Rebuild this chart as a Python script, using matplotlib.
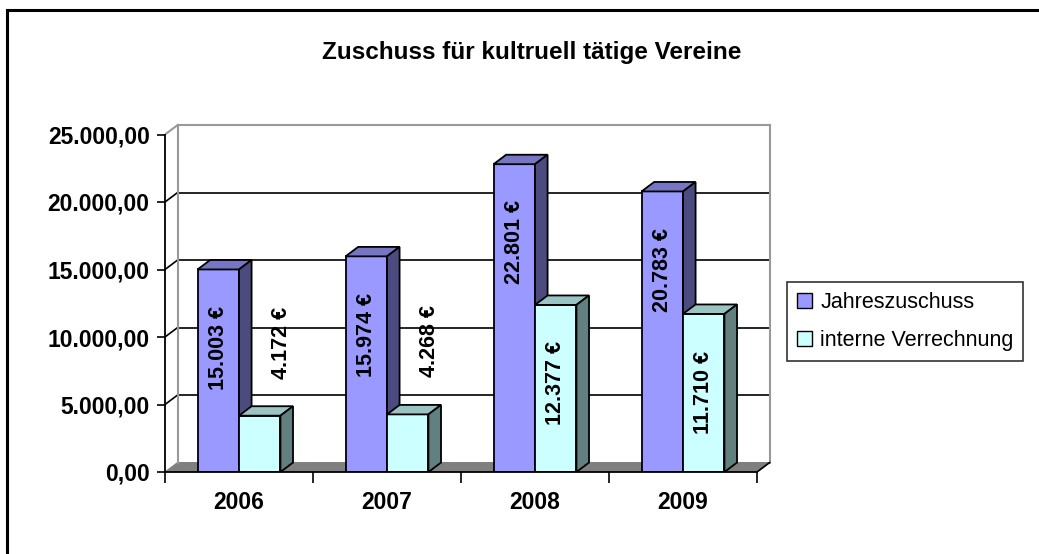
import matplotlib
matplotlib.use("Agg")
import matplotlib.pyplot as plt
import matplotlib.ticker as ticker
from matplotlib.patches import Polygon, Patch
from matplotlib.lines import Line2D

plt.rcParams["font.family"] = ["Liberation Sans", "DejaVu Sans"]

# Daten
years = ["2006", "2007", "2008", "2009"]
jahreszuschuss = [15003, 15974, 22801, 20783]
verrechnung = [4172, 4268, 12377, 11710]
series_names = ["Jahreszuschuss", "interne Verrechnung"]
y_ticks = [0, 5000, 10000, 15000, 20000, 25000]
title = "Zuschuss für kultruell tätige Vereine"

front_cols = ["#9999FF", "#CCFFFF"]
top_cols = ["#7676C4", "#9AC4C4"]
side_cols = ["#4B4B7F", "#638080"]

W, H = 1039, 554
fig = plt.figure(figsize=(W / 100, H / 100), dpi=100)
ax = fig.add_axes([165 / W, 82 / H, 625 / W, 351 / H])
ax.set_xlim(-0.5, -0.5 + 625 / 148)
ax.set_ylim(0, 26000)

# 3D-Versatz (Tiefe)
dx, dy = 0.085, 700
x_lo, x_hi = -0.5, len(years) - 0.5
wall_col = "#999999"

# Boden
ax.add_patch(Polygon([(x_lo, 0), (x_hi, 0), (x_hi + dx, dy), (x_lo + dx, dy)],
                     closed=True, facecolor="#808080", edgecolor="#808080", lw=0.8, zorder=1))
ax.plot([x_hi, x_hi + dx], [0, dy], color="black", lw=1.2, zorder=1.2, clip_on=False)

# Rückwand: Gitterlinien und Ränder
for v in y_ticks[1:-1]:
    ax.plot([x_lo + dx, x_hi + dx], [v + dy, v + dy], color="black", lw=1.2, zorder=1)
    ax.plot([x_lo, x_lo + dx], [v, v + dy], color="black", lw=1.2, zorder=1)
top = y_ticks[-1]
ax.plot([x_lo + dx, x_hi + dx], [top + dy, top + dy], color=wall_col, lw=1.5, zorder=1)
ax.plot([x_lo, x_lo + dx], [top, top + dy], color=wall_col, lw=1.5, zorder=1)
ax.plot([x_lo + dx, x_lo + dx], [dy, top + dy], color=wall_col, lw=1.5, zorder=1)
ax.plot([x_hi + dx, x_hi + dx], [dy, top + dy], color=wall_col, lw=1.5, zorder=1)

# Säulen
w = 0.28
z = 3
for i in range(len(years)):
    for s, vals in enumerate([jahreszuschuss, verrechnung]):
        v = vals[i]
        x0 = i - w + s * w
        x1 = x0 + w
        bar = ax.bar(x0, v, w, align="edge", color=front_cols[s], edgecolor="black", lw=1.3)[0]
        bar.set_zorder(z)
        ax.add_patch(Polygon([(x0, v), (x1, v), (x1 + dx, v + dy), (x0 + dx, v + dy)],
                             closed=True, facecolor=top_cols[s], edgecolor="black", lw=1.3, zorder=z))
        ax.add_patch(Polygon([(x1, 0), (x1 + dx, dy), (x1 + dx, v + dy), (x1, v)],
                             closed=True, facecolor=side_cols[s], edgecolor="black", lw=1.3, zorder=z))
        z += 1

# Datenbeschriftungen
for i in range(len(years)):
    for s, vals in enumerate([jahreszuschuss, verrechnung]):
        v = vals[i]
        xc = i - w / 2 + s * w
        txt = f"{v:,}".replace(",", ".") + " €"
        if v > 8000:
            ax.text(xc, v - 5800, txt, rotation=90, ha="center", va="center",
                    fontsize=15.5, fontweight="bold", zorder=50)
        else:
            ax.text(xc + 0.15, v + 5400, txt, rotation=90, ha="center", va="center",
                    fontsize=15.5, fontweight="bold", zorder=50)

# Achsen
for side in ["top", "right"]:
    ax.spines[side].set_visible(False)
ax.spines["left"].set_bounds(0, top)
ax.spines["bottom"].set_bounds(x_lo, x_hi)
ax.spines["left"].set_linewidth(1.3)
ax.spines["bottom"].set_linewidth(1.3)
ax.spines["left"].set_zorder(60)
ax.spines["bottom"].set_zorder(60)

ax.set_yticks(y_ticks)
ax.yaxis.set_major_formatter(ticker.FuncFormatter(
    lambda v, p: f"{v:,.2f}".replace(",", "X").replace(".", ",").replace("X", ".")))
ax.tick_params(axis="y", length=6, width=1.2, pad=5, labelsize=16.5)
for lbl in ax.get_yticklabels():
    lbl.set_fontweight("bold")

ax.set_xticks(range(len(years)))
ax.set_xticklabels(years, fontsize=16.5, fontweight="bold")
ax.set_xticks([x_lo + k for k in range(len(years) + 1)], minor=True)
ax.tick_params(axis="x", which="major", length=0, pad=14)
ax.tick_params(axis="x", which="minor", length=8, width=1.2)
ax.patch.set_visible(False)

# Titel
fig.text(532 / W, 1 - 52 / H, title, ha="center", va="center", fontsize=17.5, fontweight="bold")

# Legende
handles = [Patch(facecolor=front_cols[k], edgecolor="black", lw=1) for k in range(2)]
leg = fig.legend(handles, series_names, loc="upper left", bbox_to_anchor=(787 / W, 1 - 282 / H),
                 fontsize=15.5, frameon=True, fancybox=False, edgecolor="black",
                 handlelength=0.7, handleheight=0.7, handletextpad=0.4,
                 labelspacing=0.8, borderpad=0.45, borderaxespad=0)
leg.get_frame().set_linewidth(1.2)

# Rahmen des Diagramms
fig.add_artist(Line2D([7 / W, 7 / W], [0, 1 - 10 / H], color="black", lw=2.2))
fig.add_artist(Line2D([7 / W, 1], [1 - 10 / H, 1 - 10 / H], color="black", lw=2.2))

plt.savefig("out.png", dpi=100)
plt.close()
